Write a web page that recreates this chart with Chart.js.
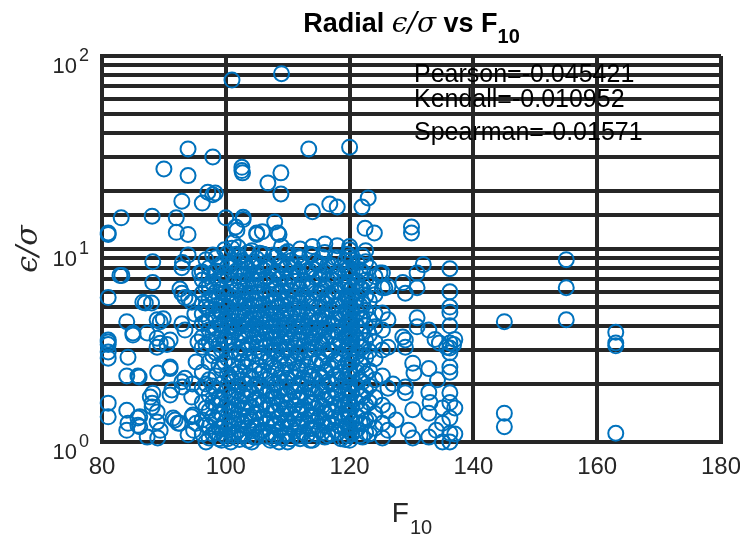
<!DOCTYPE html>
<html>
<head>
<meta charset="utf-8">
<script src="https://cdn.jsdelivr.net/npm/chart.js@4.4.0/dist/chart.umd.min.js"></script>
<style>
  html, body { margin: 0; padding: 0; background: #fff; }
  #c { display: block; }
</style>
</head>
<body>
<canvas id="c" width="740" height="538"></canvas>
<script>
// points above eps/sigma = 10
var upperPts = [
  [101, 75], [109, 81],
  [93.9, 33], [97.9, 30], [90, 26], [93.9, 24], [97.1, 19.7], [97.9, 19.1], [96.2, 17.3], [92.9, 17.7], [98.3, 19.5],
  [102.6, 26.5], [102.6, 25.5], [102.7, 24.8],
  [83.1, 14.5], [88.1, 14.8], [92, 14.5], [92, 12.2], [93.9, 11.9], [81, 12.1],
  [100, 14.5], [102.8, 14.6], [102.8, 14.2], [101.8, 12.5], [105, 11.9], [107.9, 13.8], [108.6, 11.9], [109, 10.3],
  [106.8, 22], [108.9, 24.8], [108.9, 19.3], [101, 10.1], [102, 10.2], [105.9, 12.3], [101.6, 13],
  [113.4, 33], [120, 33.7], [114, 15.6], [116.8, 17.1], [118, 16.5], [122, 16.5], [123, 18.4],
  [130, 13], [130, 12.1], [122.5, 12.8], [124, 12.1], [108.4, 12.1], [105, 12.1],
  [112, 10], [114, 10.3], [118, 10.4], [120, 10.3], [116, 10.6], [122.6, 9.8]
];

// left side, F10 below 96
var leftPts = [
  [81, 11.9], [88.2, 8.6], [93, 8.5], [92.9, 8.0], [93.9, 9.3], [83.2, 7.3], [88.2, 6.7], [95.8, 7.5],
  [81, 5.6], [86.6, 5.3], [88, 5.25], [92.9, 5.9], [93.4, 5.6], [94.5, 5.3], [88.9, 4.3], [89.9, 4.35],
  [84, 4.2], [85, 3.67], [87.3, 3.67], [92.9, 4.1], [93.4, 3.8], [81, 3.38], [81, 3.2], [81, 2.93],
  [81, 2.72], [84.2, 2.75], [89.4, 3.25], [90.5, 3.2], [88.9, 3.45], [91, 3.38], [91, 2.45], [84, 2.2],
  [86, 2.17], [89, 2.28], [92.9, 2.05], [93.4, 2.14], [94.5, 1.71], [81, 1.59], [81, 1.35], [84, 1.46],
  [84, 1.15], [84.2, 1.25], [86.1, 1.35], [86.1, 1.2], [87.8, 1.71], [88.1, 1.59], [88.9, 1.43], [88.9, 1.27],
  [89.4, 1.15], [91, 1.75], [91.8, 1.3], [92.6, 1.25], [94.7, 1.38], [95.2, 1.25], [87.3, 1.06], [89, 1.05],
  [91.3, 1.86], [93, 1.93], [94.5, 1.35], [94.8, 1.15], [93.9, 1.09], [88.2, 1.79], [88.1, 1.52], [92.3, 1.25],
  [91.5, 1.33], [85.8, 1.33], [85.8, 1.22], [87, 5.25], [92.6, 6.2], [94, 5.55], [89.4, 4.2], [85, 3.58],
  [88.9, 3.1], [85.8, 2.2], [91, 2.4], [82.9, 7.3], [81, 3.3], [95, 4.6], [95.5, 3.3], [95.2, 2.6], [94.6, 2.0]
];

// dense core, one list of eps/sigma per F10 column
var coreX = [96.2, 97.3, 98.4, 99.3, 100.3, 101.2, 102.2, 103.1, 104.2, 105.0, 106.1, 107.2, 108.1, 109.1,
  110.0, 111.1, 112.0, 113.1, 114.0, 115.1, 116.0, 117.1, 118.1, 119.3, 120.0, 121.2, 122.1, 123.2, 124.1, 125.3, 126.2];
var coreY = [
  [7.6, 6.9, 5.9, 5.2, 4.6, 4.1, 3.5, 3.1, 2.3, 1.9, 1.6, 1.3, 1.1],
  [8.0, 7.2, 6.4, 5.5, 4.9, 4.3, 3.8, 3.3, 2.6, 2.1, 1.75, 1.45, 1.2, 1.05],
  [9.0, 7.7, 6.0, 5.1, 4.4, 3.9, 3.4, 2.9, 2.2, 1.85, 1.55, 1.3, 1.12],
  [8.4, 7.0, 6.2, 5.3, 4.7, 4.0, 3.6, 3.0, 2.4, 2.0, 1.65, 1.4, 1.18, 1.02],
  [9.5, 8.1, 7.1, 5.8, 5.0, 4.4, 3.9, 3.3, 2.7, 2.25, 1.9, 1.6, 1.35, 1.15, 1.04],
  [10.8, 8.7, 6.6, 5.6, 4.8, 4.2, 3.7, 3.2, 2.5, 2.05, 1.7, 1.45, 1.25, 1.08],
  [9.2, 7.9, 6.8, 6.0, 5.2, 4.5, 3.95, 3.45, 2.85, 2.3, 1.95, 1.62, 1.38, 1.16, 1.03],
  [8.5, 7.4, 6.3, 5.4, 4.6, 4.05, 3.55, 3.0, 2.45, 2.0, 1.72, 1.5, 1.28, 1.1],
  [9.8, 8.2, 7.0, 5.9, 5.1, 4.35, 3.8, 3.25, 2.6, 2.15, 1.8, 1.52, 1.3, 1.14, 1.0],
  [8.9, 7.5, 6.5, 5.5, 4.7, 4.1, 3.6, 3.1, 2.5, 2.0, 1.68, 1.42, 1.22, 1.06],
  [9.4, 7.8, 6.1, 5.2, 4.5, 3.9, 3.4, 2.9, 2.35, 1.92, 1.6, 1.35, 1.15],
  [8.0, 6.9, 5.8, 4.9, 4.3, 3.7, 3.2, 2.7, 2.2, 1.85, 1.55, 1.3, 1.12, 1.02],
  [9.1, 7.6, 6.4, 5.4, 4.6, 4.0, 3.5, 3.0, 2.4, 1.98, 1.7, 1.45, 1.25, 1.08],
  [8.6, 7.2, 6.0, 5.1, 4.4, 3.85, 3.3, 2.8, 2.3, 1.9, 1.62, 1.4, 1.2, 1.05],
  [9.7, 8.3, 6.7, 5.6, 4.8, 4.15, 3.6, 3.1, 2.55, 2.1, 1.78, 1.5, 1.3, 1.1, 1.0],
  [8.1, 6.8, 5.7, 4.9, 4.2, 3.65, 3.15, 2.6, 2.15, 1.82, 1.55, 1.32, 1.14],
  [9.0, 7.4, 6.2, 5.3, 4.55, 3.95, 3.4, 2.9, 2.35, 1.95, 1.65, 1.4, 1.2, 1.04],
  [7.7, 6.5, 5.5, 4.7, 4.0, 3.5, 3.0, 2.45, 2.0, 1.7, 1.45, 1.25, 1.08],
  [9.3, 7.9, 6.6, 5.4, 4.6, 3.9, 3.45, 3.3, 2.2, 1.88, 1.6, 1.38, 1.18, 1.02],
  [8.4, 7.0, 5.9, 5.0, 4.3, 3.75, 3.35, 2.7, 2.25, 1.9, 1.58, 1.35, 1.15],
  [9.6, 7.6, 6.3, 5.2, 4.45, 3.8, 3.4, 2.85, 2.3, 1.96, 1.66, 1.42, 1.22, 1.06],
  [8.2, 6.9, 5.7, 4.85, 4.1, 3.55, 2.95, 2.4, 2.0, 1.7, 1.45, 1.25, 1.1],
  [9.0, 7.5, 6.1, 5.1, 4.35, 3.7, 3.15, 2.6, 2.1, 1.78, 1.52, 1.3, 1.12],
  [8.7, 7.3, 6.4, 5.5, 4.7, 4.0, 3.5, 3.0, 2.5, 2.1, 1.8, 1.55, 1.35, 1.17, 1.03],
  [9.9, 9.1, 8.0, 7.5, 6.6, 6.1, 5.4, 5.1, 4.5, 4.25, 3.8, 3.55, 3.15, 2.9, 2.75, 2.4, 2.3, 2.0, 1.9, 1.7, 1.6, 1.44, 1.34, 1.2, 1.13, 1.02],
  [8.5, 6.8, 5.6, 4.7, 4.0, 3.4, 2.8, 2.3, 1.9, 1.6, 1.36, 1.16],
  [9.2, 7.6, 6.2, 5.2, 4.4, 3.7, 3.1, 2.5, 2.05, 1.72, 1.45, 1.24, 1.06],
  [8.0, 6.5, 5.4, 4.3, 3.6, 2.95, 2.35, 1.95, 1.6, 1.3, 1.1],
  [7.2, 5.8, 4.6, 3.95, 3.3, 2.7, 2.1, 1.7, 1.4, 1.18],
  [7.5, 6.3, 4.66, 3.8, 3.0, 2.2, 1.55, 1.25, 1.05],
  [6.4, 4.3, 3.1, 1.9, 1.45, 1.15]
];

// second, interleaved set of core columns
var coreX2 = [96.8, 97.9, 98.9, 99.8, 100.8, 101.7, 102.7, 103.6, 104.6, 105.5, 106.6, 107.7, 108.6, 109.6,
  110.5, 111.6, 112.5, 113.6, 114.5, 115.6, 116.5, 117.6, 118.6, 119.7, 120.4, 121.7, 122.6];
var coreY2 = [
  [8.8, 6.3, 5.0, 4.2, 3.2, 2.0, 1.5, 1.22, 1.0],
  [9.3, 6.6, 5.7, 4.6, 3.6, 2.8, 1.95, 1.6, 1.35, 1.1],
  [8.1, 6.9, 5.6, 4.8, 4.1, 3.2, 2.5, 1.7, 1.42, 1.18, 1.04],
  [9.9, 7.5, 5.9, 5.1, 4.3, 3.4, 2.6, 1.8, 1.5, 1.26, 1.08],
  [8.3, 6.2, 5.3, 4.6, 4.0, 3.5, 2.95, 2.15, 1.75, 1.45, 1.2, 1.0],
  [9.4, 7.7, 6.1, 5.3, 4.5, 3.9, 2.9, 2.25, 1.85, 1.55, 1.32, 1.12],
  [8.7, 7.2, 5.6, 4.8, 4.2, 3.6, 3.1, 2.6, 2.1, 1.75, 1.5, 1.24, 1.08],
  [9.6, 7.9, 6.8, 5.8, 5.0, 4.3, 3.75, 3.2, 2.7, 2.2, 1.85, 1.58, 1.36, 1.18, 1.02],
  [8.6, 7.4, 6.4, 5.4, 4.6, 4.0, 3.5, 2.85, 2.35, 1.95, 1.65, 1.4, 1.2, 1.06],
  [9.5, 8.1, 6.9, 5.9, 5.1, 4.4, 3.85, 3.3, 2.75, 2.25, 1.88, 1.56, 1.32, 1.12],
  [8.5, 7.1, 5.7, 4.8, 4.2, 3.65, 3.15, 2.6, 2.1, 1.75, 1.47, 1.25, 1.07],
  [9.3, 7.4, 6.2, 5.3, 4.6, 4.0, 3.45, 2.95, 2.45, 2.0, 1.7, 1.44, 1.22, 1.04],
  [8.3, 7.0, 5.9, 5.0, 4.3, 3.75, 3.2, 2.65, 2.15, 1.82, 1.56, 1.34, 1.16, 1.0],
  [9.5, 7.9, 6.5, 5.4, 4.65, 4.05, 3.5, 3.0, 2.5, 2.05, 1.75, 1.48, 1.28, 1.1],
  [8.7, 7.2, 6.1, 5.2, 4.5, 3.85, 3.35, 2.8, 2.3, 1.92, 1.64, 1.4, 1.2, 1.04],
  [9.2, 7.6, 6.4, 5.4, 4.6, 3.95, 3.4, 2.9, 2.4, 2.0, 1.7, 1.46, 1.24, 1.07],
  [8.2, 6.8, 5.8, 4.9, 4.25, 3.7, 3.15, 2.65, 2.15, 1.8, 1.52, 1.3, 1.12],
  [9.4, 7.7, 6.3, 5.25, 4.45, 3.8, 3.3, 2.75, 2.25, 1.9, 1.6, 1.36, 1.17, 1.02],
  [8.6, 7.1, 5.9, 5.0, 4.2, 3.6, 3.1, 2.55, 2.1, 1.78, 1.5, 1.28, 1.1],
  [9.1, 7.4, 6.2, 5.3, 4.5, 3.9, 3.2, 2.6, 2.15, 1.82, 1.54, 1.3, 1.12],
  [8.3, 6.9, 5.7, 4.8, 4.1, 3.55, 3.0, 2.5, 2.05, 1.74, 1.48, 1.26, 1.08],
  [9.0, 7.3, 6.0, 5.1, 4.35, 3.75, 3.2, 2.65, 2.2, 1.85, 1.58, 1.34, 1.15],
  [8.0, 6.6, 5.5, 4.6, 3.95, 3.35, 2.85, 2.3, 1.95, 1.64, 1.4, 1.2, 1.04],
  [9.4, 7.8, 6.6, 5.7, 4.9, 4.2, 3.65, 3.15, 2.6, 2.2, 1.86, 1.6, 1.4, 1.22, 1.08],
  [8.8, 7.7, 6.3, 5.7, 4.9, 4.4, 4.0, 3.7, 3.35, 3.05, 2.6, 2.2, 1.8, 1.52, 1.28, 1.1],
  [7.8, 6.3, 5.1, 4.35, 3.7, 3.1, 2.55, 2.1, 1.75, 1.48, 1.26, 1.08],
  [8.6, 6.9, 5.7, 4.8, 4.0, 3.35, 2.75, 2.25, 1.85, 1.55, 1.3, 1.12]
];

// right side, F10 about 125-138
var rightPts = [
  [131.9, 8.3], [130.9, 7.5], [130.9, 6.3], [128.6, 6.7], [129, 5.9], [125.7, 6.3], [124.9, 7.5],
  [130.9, 4.4], [130.9, 3.95], [132.8, 3.8], [129, 3.38], [129, 3.1], [133.8, 3.4], [128.6, 3.5],
  [130.2, 2.56], [132.8, 2.4], [130.4, 2.28], [129, 1.93], [132.8, 1.81], [129, 1.8], [130.2, 1.47],
  [132.8, 1.41], [135, 1.5], [135, 1.25], [129.5, 1.15], [130.2, 1.05], [132.8, 1.06], [135, 1.0],
  [134.5, 3.26], [135.7, 3.1], [127, 2.0], [127.5, 1.3], [133, 1.6], [134, 1.15], [134.2, 2.1],
  [136.2, 7.9], [136.2, 6.0], [136.2, 5.0], [136.2, 4.7], [136.2, 4.0], [136.2, 3.26], [136.2, 3.07],
  [136.2, 2.9], [136.2, 2.45], [136.2, 2.3], [136.2, 1.8], [136.2, 1.6], [136.2, 1.33], [136.2, 1.11],
  [136.2, 1.0], [137, 3.4], [137, 1.5], [137, 1.1], [136.8, 3.2]
];

// isolated points at high F10
var farPts = [
  [145, 4.2], [145, 1.41], [145, 1.2], [155, 8.8], [155, 6.3], [155, 4.3],
  [163, 3.7], [163, 3.26], [163, 3.15], [163, 1.11]
];

var statLabels = ['Pearson=-0.045421', 'Kendall=-0.010952', 'Spearman=-0.01571'];
var yPowers = [1, 10, 100];

var ink = '#262626';
var blue = '#0072BD';

var points = [];
function addPairs(list) {
  for (var i = 0; i < list.length; i++) points.push({ x: list[i][0], y: list[i][1] });
}
function addColumns(xs, ys) {
  for (var i = 0; i < xs.length; i++) {
    for (var j = 0; j < ys[i].length; j++) points.push({ x: xs[i], y: ys[i][j] });
  }
}
addPairs(upperPts);
addPairs(leftPts);
addColumns(coreX, coreY);
addColumns(coreX2, coreY2);
addPairs(rightPts);
addPairs(farPts);

var textPlugin = {
  id: 'matlabText',
  afterDraw: function(chart) {
    var ctx = chart.ctx;
    var xs = chart.scales.x, ys = chart.scales.y;
    var area = chart.chartArea;
    ctx.save();

    // y tick labels 10^n
    ctx.fillStyle = ink;
    ctx.textBaseline = 'alphabetic';
    yPowers.forEach(function(v) {
      var py = ys.getPixelForValue(v);
      var exp = String(Math.round(Math.log10(v)));
      ctx.font = '18px "Liberation Sans", Arial, sans-serif';
      var ew = ctx.measureText(exp).width;
      ctx.textAlign = 'left';
      ctx.fillText(exp, area.left - 13 - ew, py + 5);
      ctx.font = '22px "Liberation Sans", Arial, sans-serif';
      ctx.textAlign = 'right';
      ctx.fillText('10', area.left - 15 - ew, py + 17);
    });

    // correlation notes
    ctx.fillStyle = '#000';
    ctx.font = '25px "Liberation Sans", Arial, sans-serif';
    ctx.textAlign = 'left';
    ctx.textBaseline = 'middle';
    var noteY = [80, 59, 40];
    for (var k = 0; k < statLabels.length; k++) {
      ctx.fillText(statLabels[k], xs.getPixelForValue(130.4), ys.getPixelForValue(noteY[k]));
    }

    // title
    var parts = [
      { t: 'Radial ', f: 'bold 27px "Liberation Sans", Arial, sans-serif', dy: 0 },
      { t: '\u03f5/\u03c3', f: 'italic 28px "DejaVu Serif", "Liberation Serif", serif', dy: 0 },
      { t: ' vs F', f: 'bold 27px "Liberation Sans", Arial, sans-serif', dy: 0 },
      { t: '10', f: 'bold 20px "Liberation Sans", Arial, sans-serif', dy: 11 }
    ];
    var total = 0;
    parts.forEach(function(p) { ctx.font = p.f; p.w = ctx.measureText(p.t).width; total += p.w; });
    var cx = (area.left + area.right) / 2 - total / 2;
    ctx.fillStyle = '#000';
    ctx.textAlign = 'left';
    ctx.textBaseline = 'alphabetic';
    parts.forEach(function(p) { ctx.font = p.f; ctx.fillText(p.t, cx, 32 + p.dy); cx += p.w; });

    // x label F_10
    ctx.fillStyle = ink;
    ctx.font = '28px "Liberation Sans", Arial, sans-serif';
    var fw = ctx.measureText('F').width;
    ctx.font = '20px "Liberation Sans", Arial, sans-serif';
    var sw = ctx.measureText('10').width;
    var lx = (area.left + area.right) / 2 - (fw + sw) / 2;
    ctx.font = '28px "Liberation Sans", Arial, sans-serif';
    ctx.fillText('F', lx, 522);
    ctx.font = '20px "Liberation Sans", Arial, sans-serif';
    ctx.fillText('10', lx + fw + 1, 534);

    // y label eps/sigma
    ctx.translate(37, (area.top + area.bottom) / 2);
    ctx.rotate(-Math.PI / 2);
    ctx.font = 'italic 30px "DejaVu Serif", "Liberation Serif", serif';
    ctx.textAlign = 'center';
    ctx.fillText('\u03f5/\u03c3', 0, 0);
    ctx.restore();
  }
};

new Chart(document.getElementById('c'), {
  type: 'scatter',
  data: {
    datasets: [{
      data: points,
      borderColor: blue,
      backgroundColor: 'rgba(0,0,0,0)',
      borderWidth: 2,
      pointRadius: 7.5,
      pointHoverRadius: 7.5,
      clip: false
    }]
  },
  options: {
    responsive: false,
    animation: false,
    events: [],
    layout: { padding: { top: 56, right: 19, left: 0, bottom: 0 } },
    plugins: { legend: { display: false }, tooltip: { enabled: false } },
    scales: {
      x: {
        type: 'linear', min: 80, max: 180,
        ticks: { stepSize: 20, color: ink, padding: 11, font: { size: 24, family: '"Liberation Sans", Arial, sans-serif' } },
        grid: { color: ink, lineWidth: 4, drawTicks: false },
        border: { display: true, color: ink, width: 4 },
        afterFit: function(s) { s.height = 96; s.paddingLeft = 0; s.paddingRight = 0; }
      },
      y: {
        type: 'logarithmic', min: 1, max: 100,
        ticks: { display: false },
        grid: { color: ink, lineWidth: 4, drawTicks: false },
        border: { display: true, color: ink, width: 4 },
        afterFit: function(s) { s.width = 102; }
      }
    }
  },
  plugins: [textPlugin]
});
</script>
</body>
</html>
